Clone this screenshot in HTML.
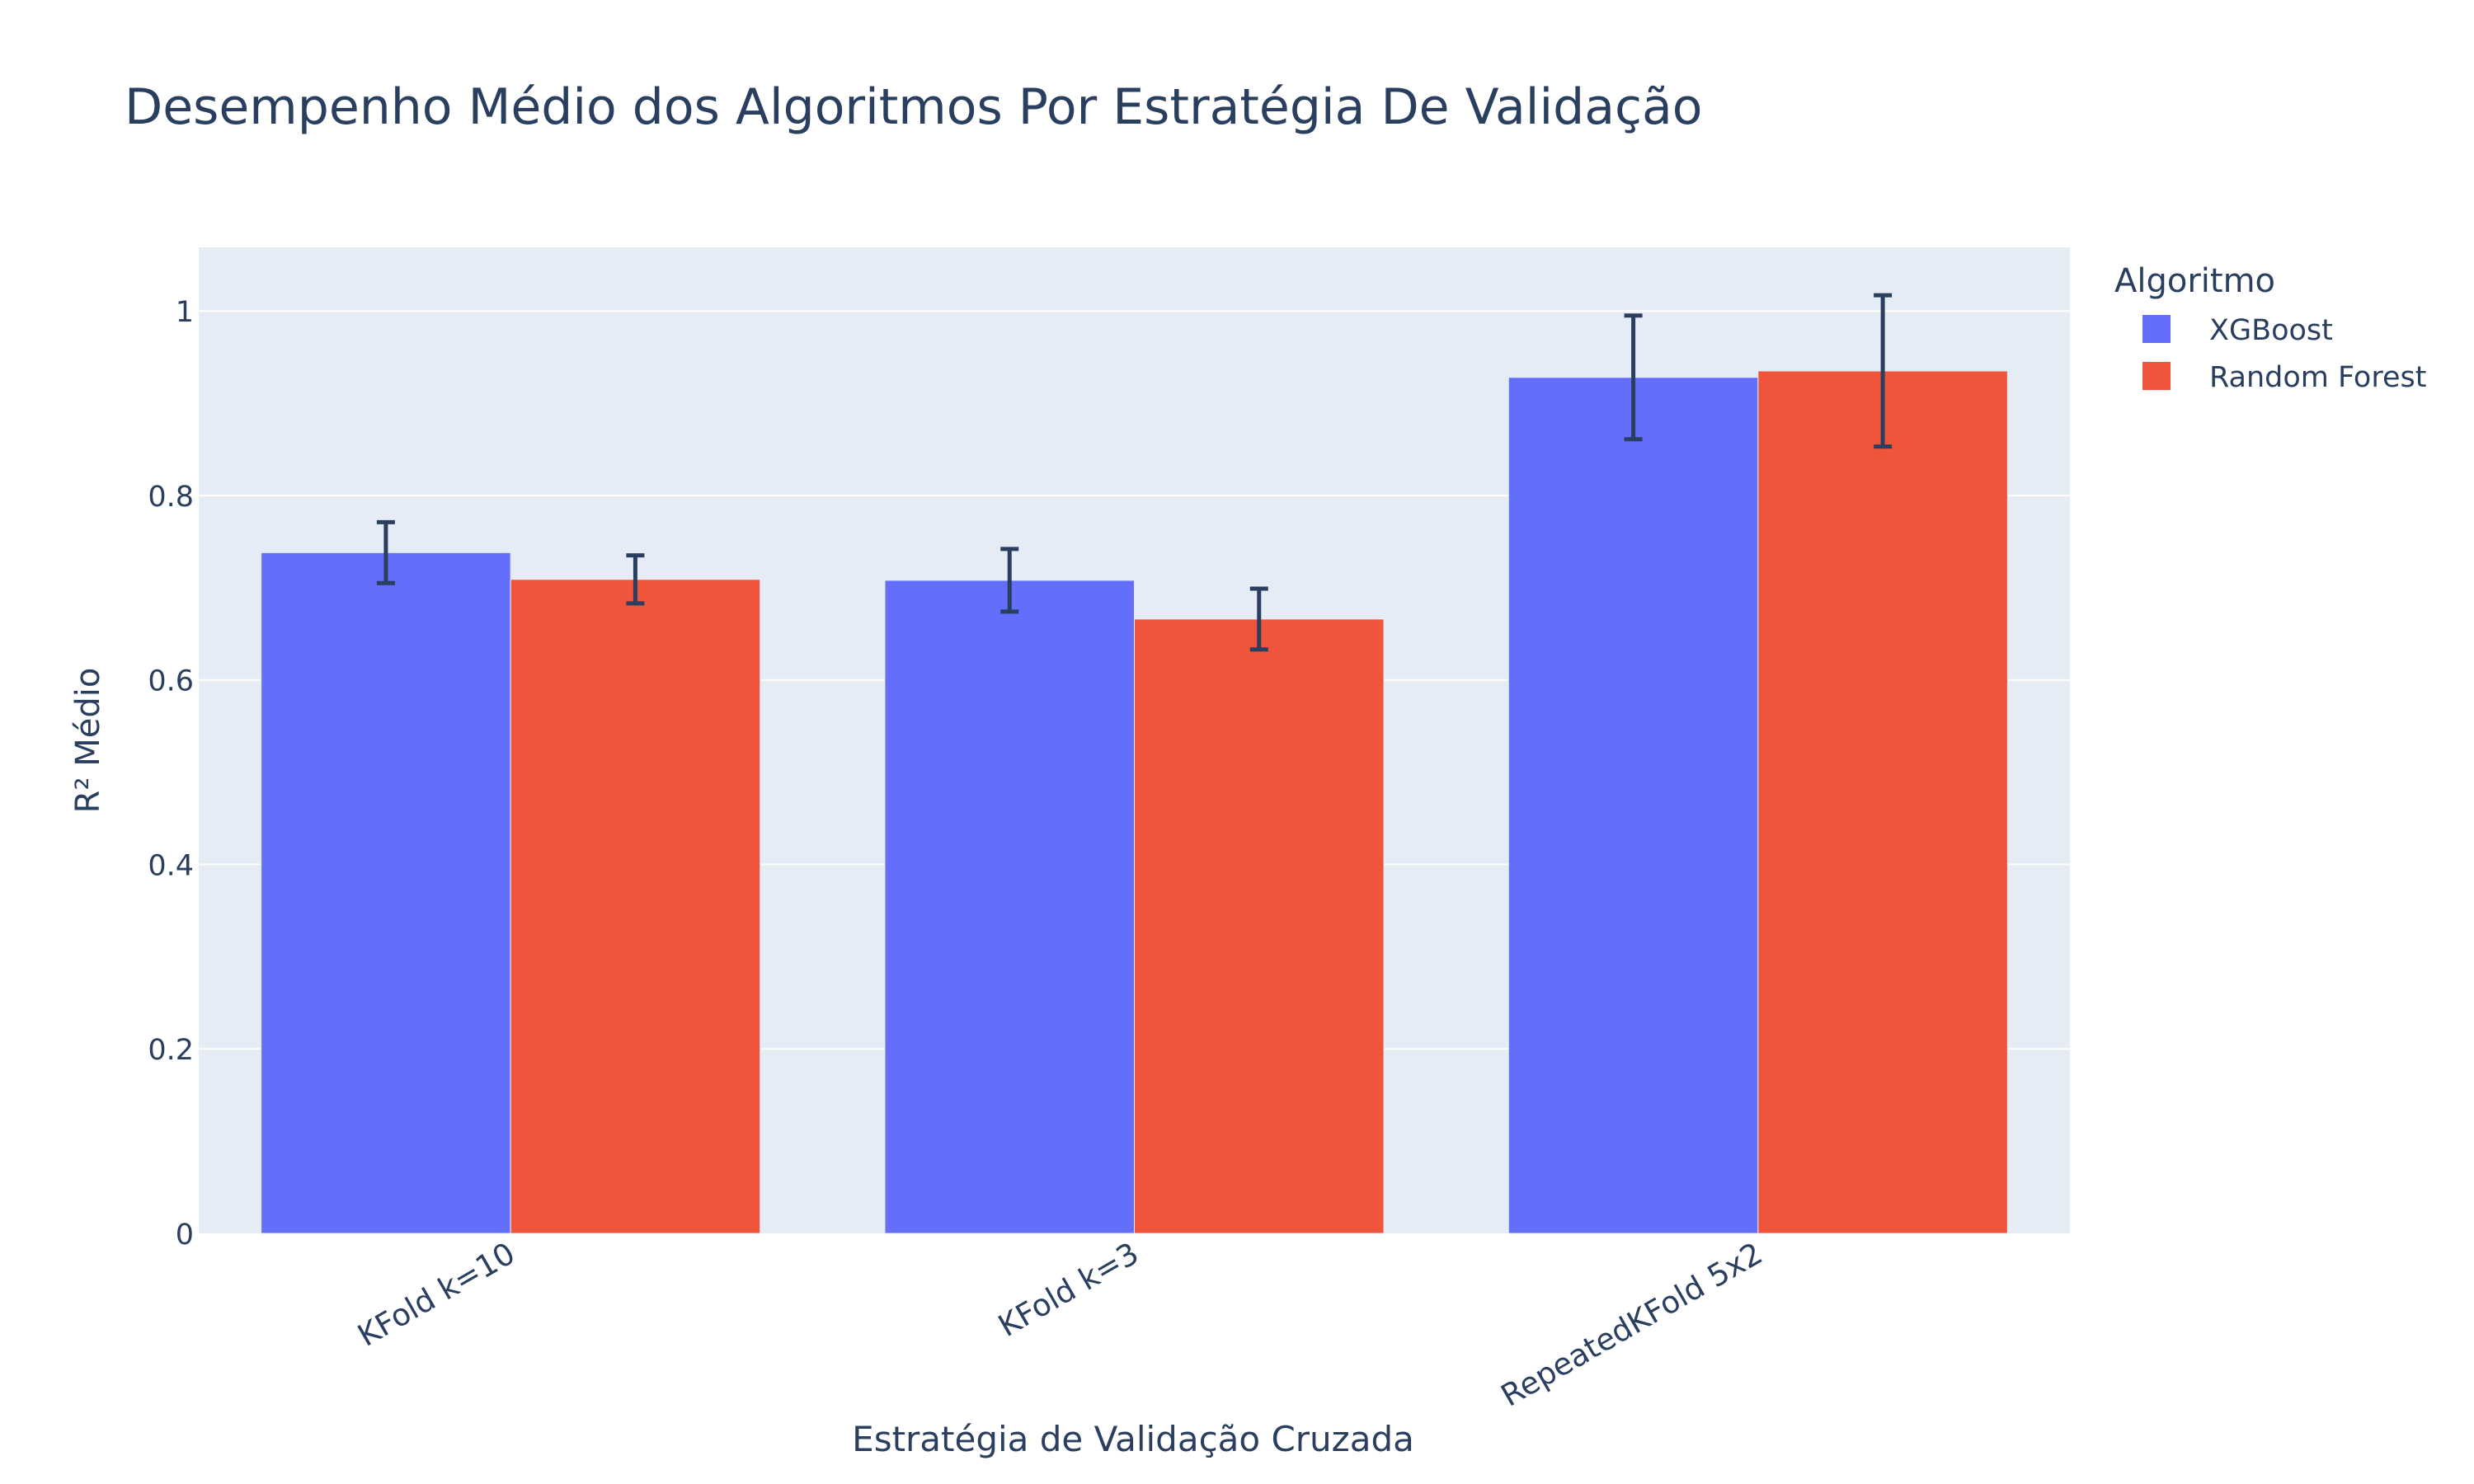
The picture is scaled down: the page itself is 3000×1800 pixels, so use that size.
<!DOCTYPE html>
<html><head><meta charset="utf-8"><style>
html,body{margin:0;padding:0;background:#fff;}
svg{display:block;font-family:"DejaVu Sans","Liberation Sans",sans-serif;}
</style></head><body>
<svg id="chart" width="3000" height="1800" viewBox="0 0 3000 1800">
<rect x="0" y="0" width="3000" height="1800" fill="#ffffff"/>
<text x="151" y="150" font-size="60" fill="#2a3f5f">Desempenho Médio dos Algoritmos Por Estratégia De Validação</text>
<rect x="241" y="300" width="2269" height="1196" fill="#e5ecf6"/>
<g id="grid"></g>
<g id="bars"></g>
<g id="errs"></g>
<g id="yticks"></g>
<g id="xticks"></g>
<text transform="translate(120,898) rotate(-90)" text-anchor="middle" font-size="40" fill="#2a3f5f">R² Médio</text>
<text x="1374" y="1760" text-anchor="middle" font-size="42" fill="#2a3f5f">Estratégia de Validação Cruzada</text>
<g>
<text x="2564" y="354" font-size="40" fill="#2a3f5f">Algoritmo</text>
<g>
<rect x="2598" y="382" width="34" height="34" fill="#636efa"/>
<text x="2679" y="412" font-size="35" fill="#2a3f5f">XGBoost</text></g>
<g>
<rect x="2598" y="439" width="34" height="34" fill="#ef553b"/>
<text x="2679" y="469" font-size="35" fill="#2a3f5f">Random Forest</text></g>
</g>
</svg>
<script>
const categories = ["KFold k=10","KFold k=3","RepeatedKFold 5x2"];
const xgbValues = [0.738, 0.708, 0.928];
const xgbErrors = [0.033, 0.034, 0.067];
const rfValues = [0.709, 0.666, 0.935];
const rfErrors = [0.026, 0.033, 0.082];
const yTicks = [0, 0.2, 0.4, 0.6, 0.8, 1];
const yTickLabels = ["0","0.2","0.4","0.6","0.8","1"];

const NS = "http://www.w3.org/2000/svg";
const plotL = 241, plotR = 2510, plotT = 300, plotB = 1496;
const yMax = 1.069;
function yScale(v){ return plotB - v / yMax * (plotB - plotT); }
const catW = (plotR - plotL) / categories.length;
function xCenter(i){ return plotL + catW * (i + 0.5); }
const barW = catW * 0.4;
function mk(tag, attrs, parent){ const e=document.createElementNS(NS,tag); for(const k in attrs) e.setAttribute(k,attrs[k]); parent.appendChild(e); return e; }

const grid=document.getElementById('grid'), yt=document.getElementById('yticks');
yTicks.forEach((t,i)=>{
  const y=yScale(t);
  if(t>0){ const l=mk('line',{x1:plotL,x2:plotR,y1:y,y2:y,stroke:'#ffffff','stroke-width':2},grid);
    
     }
  const tx=mk('text',{x:235,y:y+13,'text-anchor':'end','font-size':35,fill:'#2a3f5f'},yt);
  tx.textContent=yTickLabels[i];
  
  
});

const bars=document.getElementById('bars'), errs=document.getElementById('errs'), xt=document.getElementById('xticks');
const series=[{v:xgbValues,e:xgbErrors,c:'#636efa',n:'xgboost',off:-1},{v:rfValues,e:rfErrors,c:'#ef553b',n:'random-forest',off:0}];
categories.forEach((cat,i)=>{
  series.forEach(s=>{
    const x=xCenter(i)+s.off*barW, y=yScale(s.v[i]);
    const r=mk('rect',{x:x,y:y,width:barW,height:plotB-y,fill:s.c,stroke:'#e5ecf6','stroke-width':1},bars);
    
    
    const cx=x+barW/2, y1=yScale(s.v[i]+s.e[i]), y2=yScale(s.v[i]-s.e[i]);
    const g=mk('g',{stroke:'#2a3f5f','stroke-width':5},errs);
    
    
    mk('line',{x1:cx,x2:cx,y1:y1,y2:y2},g);
    mk('line',{x1:cx-11,x2:cx+11,y1:y1,y2:y1},g);
    mk('line',{x1:cx-11,x2:cx+11,y1:y2,y2:y2},g);
  });
  const t=mk('text',{transform:'translate('+(xCenter(i)+8)+',1528) rotate(-30)','text-anchor':'end','font-size':37,fill:'#2a3f5f'},xt);
  t.textContent=cat;
  
  
});
</script>
</body></html>
